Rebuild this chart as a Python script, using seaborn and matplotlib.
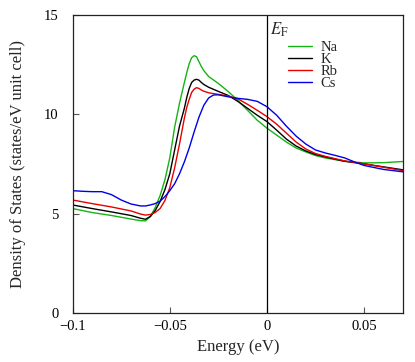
import numpy as np
import pandas as pd
import matplotlib
matplotlib.use("Agg")
import matplotlib.pyplot as plt
import seaborn as sns

# energies (eV) and DOS values
energy = [-0.1, -0.09, -0.08, -0.07, -0.065, -0.0625, -0.06, -0.0575, -0.055,
          -0.0525, -0.05, -0.0475, -0.045, -0.0425, -0.04125, -0.04, -0.03875,
          -0.0375, -0.03625, -0.035, -0.03375, -0.0325, -0.03, -0.025, -0.02,
          -0.015, -0.01, -0.005, 0.0, 0.005, 0.01, 0.015, 0.02, 0.025, 0.03,
          0.04, 0.05, 0.06, 0.07]
dos_na = [5.25, 5.05, 4.9, 4.72, 4.64, 4.63, 4.85, 5.3, 5.9, 6.7, 7.8, 9.35,
          10.55, 11.6, 12.1, 12.55, 12.85, 12.95, 12.9, 12.65, 12.4, 12.2,
          11.9, 11.55, 11.15, 10.7, 10.2, 9.7, 9.3, 8.95, 8.6, 8.3, 8.1, 7.92,
          7.8, 7.63, 7.55, 7.56, 7.62]
dos_k = [5.43, 5.25, 5.08, 4.9, 4.76, 4.71, 4.85, 5.15, 5.6, 6.2, 7.0, 8.2,
         9.4, 10.3, 10.85, 11.3, 11.6, 11.72, 11.76, 11.72, 11.6, 11.5, 11.36,
         11.15, 10.95, 10.65, 10.3, 9.95, 9.63, 9.2, 8.75, 8.4, 8.15, 7.97,
         7.85, 7.63, 7.5, 7.35, 7.2]
dos_rb = [5.68, 5.5, 5.33, 5.13, 4.97, 4.92, 4.95, 5.05, 5.25, 5.65, 6.3, 7.3,
          8.5, 9.8, 10.35, 10.75, 11.1, 11.26, 11.34, 11.3, 11.22, 11.16,
          11.08, 11.0, 10.92, 10.78, 10.5, 10.2, 9.88, 9.5, 9.05, 8.6, 8.25,
          8.02, 7.88, 7.65, 7.5, 7.33, 7.16]
energy_cs = [-0.1, -0.095, -0.09, -0.085, -0.08, -0.075, -0.07, -0.065, -0.0625,
             -0.06, -0.0575, -0.055, -0.0525, -0.05, -0.0475, -0.045, -0.0425,
             -0.04, -0.0375, -0.035, -0.0325, -0.03, -0.0275, -0.025, -0.02,
             -0.015, -0.01, -0.005, 0.0, 0.005, 0.01, 0.015, 0.02, 0.025, 0.03,
             0.035, 0.04, 0.045, 0.05, 0.06, 0.07]
dos_cs = [6.15, 6.12, 6.1, 6.1, 5.95, 5.68, 5.48, 5.38, 5.38, 5.43, 5.5, 5.62,
          5.85, 6.15, 6.5, 7.0, 7.6, 8.3, 9.1, 9.85, 10.45, 10.82, 10.97, 10.98,
          10.88, 10.8, 10.75, 10.65, 10.38, 9.95, 9.4, 8.9, 8.5, 8.2, 8.05,
          7.93, 7.8, 7.6, 7.42, 7.22, 7.1]

elements = ["Na", "K", "Rb", "Cs"]
colors = ["#14b414", "#000000", "#e60000", "#0000e6"]

frames = []
for name, e, d in [("Na", energy, dos_na), ("K", energy, dos_k),
                   ("Rb", energy, dos_rb), ("Cs", energy_cs, dos_cs)]:
    frames.append(pd.DataFrame({"Energy": e, "DOS": d, "Element": name}))
df = pd.concat(frames, ignore_index=True)

sns.set_style("ticks")
plt.rcParams["font.family"] = ["Liberation Serif", "DejaVu Serif"]
plt.rcParams["mathtext.fontset"] = "stix"

fig = plt.figure(figsize=(4.15, 3.62), dpi=100)
ax = fig.add_axes([0.175, 0.136, 0.796, 0.8226])

sns.lineplot(data=df, x="Energy", y="DOS", hue="Element", hue_order=elements,
             palette=colors, linewidth=1.0, ax=ax, sort=False)
ax.axvline(0, color="black", linewidth=0.9)

ax.set_xlim(-0.1, 0.07)
ax.set_ylim(0, 15)
ax.set_xticks([-0.1, -0.05, 0, 0.05])
ax.set_xticklabels(["\u22120.1", "\u22120.05", "0", "0.05"])
ax.set_yticks([0, 5, 10, 15])
ax.tick_params(direction="in", length=4, labelsize=10.5, colors="#555555",
               labelcolor="black")
ax.tick_params(axis="x", pad=5.5)
ax.tick_params(axis="y", pad=10)
for s in ax.spines.values():
    s.set_linewidth(0.9)
    s.set_color("#222222")
ax.set_xlabel("Energy (eV)", fontsize=12, labelpad=4)
ax.set_ylabel("Density of States (states/eV unit cell)", fontsize=12,
              labelpad=13)

ax.text(0.0015, 14.25, r"$E_\mathrm{F}$", fontsize=12, ha="left", va="center")

leg = ax.legend(loc="upper left", bbox_to_anchor=(0.651, 0.912), frameon=False,
                fontsize=10.5, handlelength=1.7, handletextpad=0.55,
                labelspacing=-0.1, borderpad=0, borderaxespad=0)
for line in leg.get_lines():
    line.set_linewidth(1.0)

fig.savefig("out.png", dpi=100)
